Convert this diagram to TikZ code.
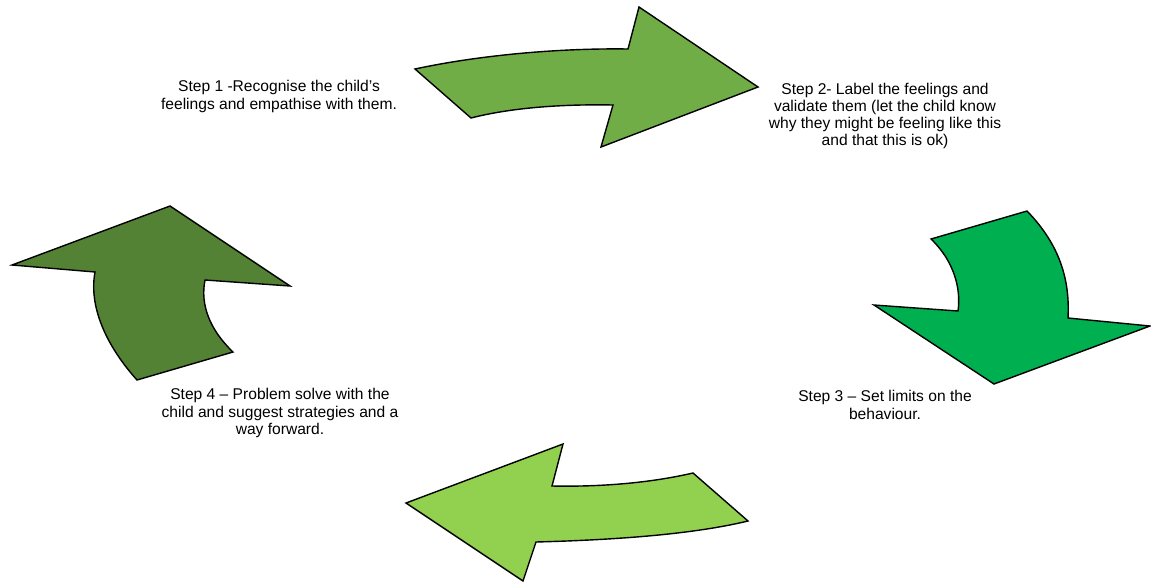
\documentclass[tikz,border=0pt]{standalone}
\usepackage{fontspec}
\setmainfont{Liberation Sans}
\definecolor{arrA}{HTML}{70AD47}
\definecolor{arrB}{HTML}{00B050}
\definecolor{arrC}{HTML}{92D050}
\definecolor{arrD}{HTML}{548235}
\begin{document}
\begin{tikzpicture}[x=1pt,y=-1pt,
  bigarrow/.style={draw=black,line width=1.4pt,line join=miter},
  steptext/.style={align=center,inner sep=0pt,font=\fontsize{15.6}{17.2}\selectfont,text=black}]
\useasboundingbox (0,0) rectangle (1151,582);
\fill[white] (0,0) rectangle (1151,582);
% top arrow
\filldraw[bigarrow,fill=arrA] (415,69) .. controls (480,55) and (560,48) .. (628,49)
  -- (639,7) -- (758,87) -- (601,147) -- (613,105)
  .. controls (560,104) and (510,108) .. (471,118) -- cycle;
% right arrow
\filldraw[bigarrow,fill=arrB] (931,239) -- (1027,211)
  .. controls (1060,245) and (1070,280) .. (1068,318)
  -- (1150,326) -- (994,384) -- (874,305) -- (958,311)
  .. controls (961,290) and (955,262) .. (931,239) -- cycle;
% bottom arrow
\filldraw[bigarrow,fill=arrC] (693,473) -- (748,521)
  .. controls (690,535) and (610,540) .. (536,542)
  -- (523,581) -- (406,503) -- (563,444) -- (552,486)
  .. controls (600,487) and (650,483) .. (693,473) -- cycle;
% left arrow
\filldraw[bigarrow,fill=arrD] (137,380) -- (233,352)
  .. controls (210,330) and (200,305) .. (205,280)
  -- (290,286) -- (170,206) -- (12,265) -- (95,272)
  .. controls (88,310) and (110,350) .. (137,380) -- cycle;
% texts
\node[steptext] (s1) at (279,96.5) {Step 1 -Recognise the child’s\\feelings and empathise with them.};
\node[steptext] (s2) at (885,116) {Step 2- Label the feelings and\\validate them (let the child know\\why they might be feeling like this\\and that this is ok)};
\node[steptext] (s3) at (885,405) {Step 3 – Set limits on the\\behaviour.};
\node[steptext] (s4) at (280,413) {Step 4 – Problem solve with the\\child and suggest strategies and a\\way forward.};
\end{tikzpicture}
\end{document}
